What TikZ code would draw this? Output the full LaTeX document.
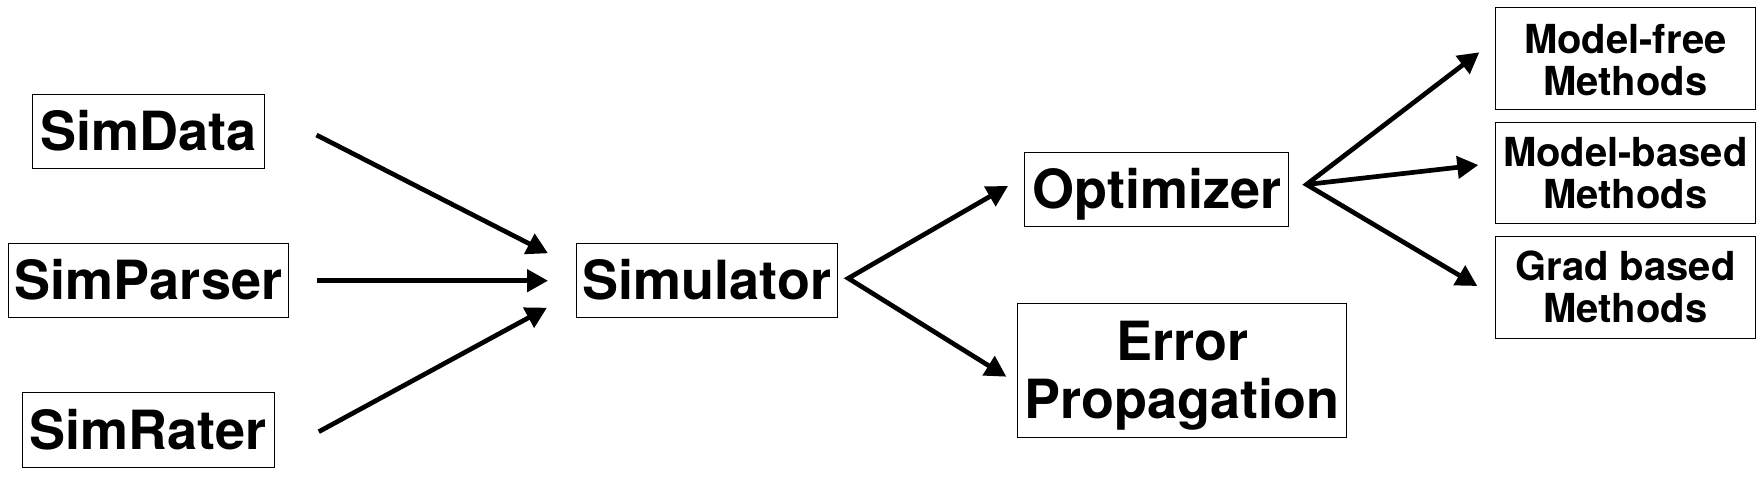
\documentclass[tikz,border=0pt]{standalone}
\usepackage{fontspec}
\setmainfont{TeX Gyre Heros}
\usetikzlibrary{arrows.meta}
\begin{document}
\begin{tikzpicture}[x=0.5pt,y=-0.5pt,
  box/.style={draw, line width=0.65pt, inner sep=0pt, align=center,
    font=\bfseries\fontsize{27}{28.8}\selectfont, text height=19.4pt, text depth=0pt},
  twoline/.style={text height=48.2pt},
  meth/.style={font=\bfseries\fontsize{20}{21}\selectfont, text height=35.4pt, minimum width=130pt},
  arr/.style={line width=2.35pt, -{Triangle[length=10.5pt,width=11pt]}},
  dbl/.style={line width=2.35pt, line join=miter, {Triangle[length=10.5pt,width=11pt]}-{Triangle[length=10.5pt,width=11pt]}}]
\useasboundingbox (0,0) rectangle (1762,477);

\node[box, minimum width=116pt, minimum height=37pt] (sd) at (148.5,131.3) {SimData};
\node[box, minimum width=140pt, minimum height=37pt] (sp) at (148.5,280.3) {SimParser};
\node[box, minimum width=126pt, minimum height=37.5pt] (sr) at (148.3,429.8) {SimRater};
\node[box, minimum width=130.5pt, minimum height=37pt] (sim) at (707,280.3) {Simulator};
\node[box, minimum width=132pt, minimum height=37pt] (opt) at (1156.7,189.3) {Optimizer};
\node[box, twoline, minimum width=164.5pt, minimum height=67pt] (err) at (1182.2,370.2) {Error\\Propagation};
\node[box, meth, text height=37.2pt, minimum height=51pt] (mf) at (1625.3,58.2) {Model-free\\Methods};
\node[box, meth, minimum height=50.5pt] (mb) at (1625.3,172.7) {Model-based\\Methods};
\node[box, meth, minimum height=51pt] (gb) at (1625.3,287.5) {Grad based\\Methods};

\coordinate (sdO) at (316.5,135);
\coordinate (spO) at (316.5,280.7);
\coordinate (srO) at (318.8,431.7);
\coordinate (simI1) at (548,253.3);
\coordinate (simI2) at (548,280.7);
\coordinate (simI3) at (547,307.7);
\coordinate (simJ) at (848.3,278.3);
\coordinate (optI) at (1008,186);
\coordinate (errI) at (1006.4,376.7);
\coordinate (optJ) at (1306.5,184.5);
\coordinate (mfI) at (1479.3,52.3);
\coordinate (mbI) at (1478.3,165);
\coordinate (gbI) at (1477.3,286);

\draw[arr] (sdO) -- (simI1);
\draw[arr] (spO) -- (simI2);
\draw[arr] (srO) -- (simI3);
\draw[dbl] (optI) -- (simJ) -- (errI);
\draw[dbl] (mfI) -- (optJ) -- (gbI);
\draw[arr] (optJ) -- (mbI);
\end{tikzpicture}
\end{document}
